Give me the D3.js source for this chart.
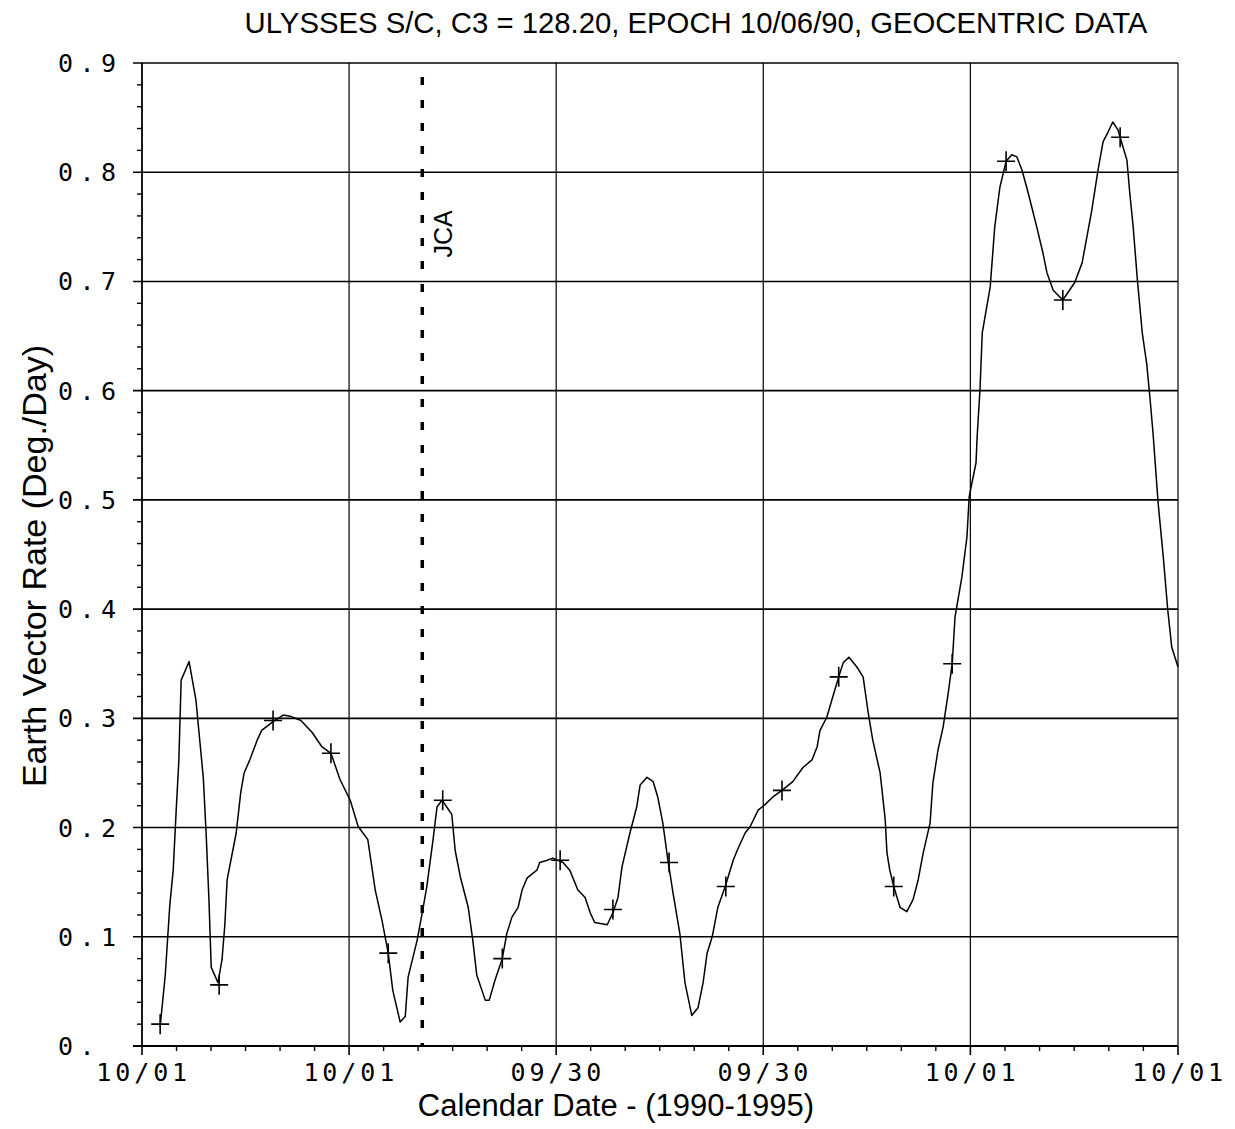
<!DOCTYPE html>
<html>
<head>
<meta charset="utf-8">
<script src="https://cdn.jsdelivr.net/npm/d3@7"></script>
<style>
  body { margin: 0; background: #fff; }
  svg { display: block; }
</style>
</head>
<body>
<svg id="chart" width="1235" height="1129"></svg>
<script>
// ---- Text ----
const chartTitle = "ULYSSES S/C, C3 = 128.20, EPOCH 10/06/90, GEOCENTRIC DATA";
const xTitle = "Calendar Date - (1990-1995)";
const yTitle = "Earth Vector Rate  (Deg./Day)";
const jcaLabel = "JCA";

// ---- Axes (x in days since 10/01/1990) ----
const xTickDays = [0, 365, 730, 1095, 1460, 1826];
const xTickLabels = ["10/01", "10/01", "09/30", "09/30", "10/01", "10/01"];
const yTickValues = [0, 0.1, 0.2, 0.3, 0.4, 0.5, 0.6, 0.7, 0.8, 0.9];
const yTickLabels = ["0.", "0.1", "0.2", "0.3", "0.4", "0.5", "0.6", "0.7", "0.8", "0.9"];

// Jupiter closest approach (days since 10/01/1990)
const jcaDay = 494;

// ---- Earth vector rate, continuous trace ----
const rateDays = [
  32, 41, 49, 55, 60, 65, 69, 83, 95, 108, 113, 118, 122, 134, 141, 146, 150, 166, 174, 180,
  190, 203, 211, 231, 249, 261, 280, 300, 317, 333, 349, 367, 381, 398, 411, 423, 434, 442, 455, 464,
  469, 485, 495, 502, 513, 520, 529, 546, 552, 561, 575, 583, 590, 605, 612, 622, 635, 643, 652, 663,
  670, 679, 696, 701, 714, 724, 742, 754, 768, 781, 790, 798, 820, 830, 839, 846, 860, 872, 878, 890,
  901, 909, 918, 927, 936, 948, 957, 969, 980, 989, 996, 1005, 1015, 1028, 1042, 1049, 1063, 1072, 1086, 1098,
  1112, 1128, 1147, 1165, 1181, 1190, 1195, 1207, 1216, 1228, 1236, 1246, 1260, 1271, 1280, 1288, 1301, 1310, 1313, 1318,
  1325, 1336, 1348, 1359, 1368, 1377, 1389, 1394, 1403, 1412, 1421, 1428, 1433, 1445, 1454, 1458, 1470, 1472, 1477, 1481,
  1495, 1503, 1512, 1523, 1533, 1542, 1551, 1562, 1577, 1588, 1595, 1606, 1623, 1644, 1657, 1674, 1685, 1694, 1703, 1711,
  1720, 1724, 1736, 1741, 1747, 1754, 1763, 1771, 1777, 1782, 1791, 1800, 1808, 1815, 1826
];
const rateValues = [
  0.018, 0.065, 0.129, 0.161, 0.213, 0.262, 0.335, 0.352, 0.317, 0.246, 0.195, 0.134, 0.072, 0.058, 0.079, 0.111, 0.152, 0.195, 0.232, 0.250,
  0.262, 0.280, 0.289, 0.297, 0.303, 0.302, 0.298, 0.287, 0.274, 0.268, 0.244, 0.225, 0.201, 0.189, 0.143, 0.115, 0.085, 0.051, 0.022, 0.027,
  0.063, 0.097, 0.125, 0.146, 0.189, 0.219, 0.225, 0.212, 0.179, 0.155, 0.127, 0.097, 0.065, 0.042, 0.042, 0.060, 0.080, 0.103, 0.118, 0.127,
  0.143, 0.154, 0.161, 0.168, 0.170, 0.172, 0.168, 0.161, 0.143, 0.136, 0.122, 0.113, 0.111, 0.122, 0.136, 0.164, 0.195, 0.219, 0.239, 0.246,
  0.242, 0.228, 0.204, 0.170, 0.140, 0.103, 0.058, 0.028, 0.035, 0.058, 0.085, 0.100, 0.127, 0.146, 0.170, 0.179, 0.195, 0.201, 0.216, 0.221,
  0.228, 0.234, 0.242, 0.255, 0.262, 0.274, 0.289, 0.301, 0.317, 0.338, 0.351, 0.356, 0.347, 0.338, 0.305, 0.280, 0.250, 0.207, 0.177, 0.161,
  0.146, 0.127, 0.123, 0.134, 0.152, 0.177, 0.204, 0.241, 0.271, 0.292, 0.323, 0.350, 0.393, 0.429, 0.466, 0.503, 0.534, 0.558, 0.601, 0.653,
  0.695, 0.750, 0.786, 0.810, 0.816, 0.814, 0.802, 0.781, 0.750, 0.726, 0.708, 0.692, 0.683, 0.699, 0.717, 0.765, 0.802, 0.828, 0.837, 0.846,
  0.839, 0.832, 0.811, 0.781, 0.750, 0.704, 0.653, 0.624, 0.591, 0.561, 0.497, 0.448, 0.399, 0.365, 0.347
];

// ---- Sampled points marked with "+" ----
const sampleDays = [32, 136, 231, 333, 434, 530, 635, 737, 830, 929, 1029, 1128, 1228, 1325, 1428, 1523, 1623, 1724];
const sampleValues = [0.020, 0.056, 0.298, 0.268, 0.085, 0.225, 0.080, 0.170, 0.125, 0.168, 0.146, 0.234, 0.338, 0.146, 0.350, 0.810, 0.683, 0.832];

// ---- Layout ----
const plotLeft = 142, plotRight = 1178, plotTop = 63, plotBottom = 1046;
const svg = d3.select("#chart");

const x = d3.scaleLinear().domain([0, 1826]).range([plotLeft, plotRight]);
const y = d3.scaleLinear().domain([0, 0.9]).range([plotBottom, plotTop]);

const ink = "#000";
const sans = "'Liberation Sans', Arial, Helvetica, sans-serif";
const mono = "'DejaVu Sans Mono', 'Liberation Mono', monospace";

// Horizontal grid lines (0.1 .. 0.9), extended left as major ticks
svg.append("g").selectAll("line")
  .data(yTickValues.filter(v => v > 0))
  .join("line")
  .attr("x1", plotLeft - 9).attr("x2", plotRight)
  .attr("y1", d => y(d)).attr("y2", d => y(d))
  .attr("stroke", ink).attr("stroke-width", 1.6);

// Vertical grid lines at the yearly ticks
svg.append("g").selectAll("line")
  .data(xTickDays.slice(1))
  .join("line")
  .attr("x1", d => x(d)).attr("x2", d => x(d))
  .attr("y1", plotTop).attr("y2", plotBottom)
  .attr("stroke", ink).attr("stroke-width", 1.2);

// Left axis line and bottom axis line
svg.append("line").attr("x1", plotLeft).attr("x2", plotLeft).attr("y1", plotTop).attr("y2", plotBottom)
  .attr("stroke", ink).attr("stroke-width", 1.8);
svg.append("line").attr("x1", plotLeft - 9).attr("x2", plotRight).attr("y1", plotBottom).attr("y2", plotBottom)
  .attr("stroke", ink).attr("stroke-width", 1.8);

// Y minor ticks every 0.02
const yMinor = d3.range(0, 0.9001, 0.02).filter(v => Math.abs(v * 10 - Math.round(v * 10)) > 1e-6);
svg.append("g").selectAll("line").data(yMinor).join("line")
  .attr("x1", plotLeft - 5).attr("x2", plotLeft)
  .attr("y1", d => y(d)).attr("y2", d => y(d))
  .attr("stroke", ink).attr("stroke-width", 1.4);

// X ticks: major at each year, minor every sixth of a year
const xMinor = [];
for (let i = 0; i < xTickDays.length - 1; i++) {
  const a = xTickDays[i], b = xTickDays[i + 1];
  for (let k = 1; k < 6; k++) xMinor.push(a + (b - a) * k / 6);
}
svg.append("g").selectAll("line").data(xMinor).join("line")
  .attr("x1", d => x(d)).attr("x2", d => x(d))
  .attr("y1", plotBottom).attr("y2", plotBottom + 5)
  .attr("stroke", ink).attr("stroke-width", 1.4);
svg.append("g").selectAll("line").data(xTickDays).join("line")
  .attr("x1", d => x(d)).attr("x2", d => x(d))
  .attr("y1", plotBottom).attr("y2", plotBottom + 9)
  .attr("stroke", ink).attr("stroke-width", 1.6);

// Y tick labels
svg.append("g").selectAll("text").data(yTickValues).join("text")
  .attr("x", 58).attr("y", d => y(d) + 9)
  .attr("font-family", mono).attr("font-size", 25)
  .attr("letter-spacing", 6.5)
  .attr("fill", ink)
  .text((d, i) => yTickLabels[i]);

// X tick labels
svg.append("g").selectAll("text").data(xTickDays).join("text")
  .attr("x", d => x(d) + 1.7).attr("y", 1081)
  .attr("text-anchor", "middle")
  .attr("font-family", mono).attr("font-size", 25)
  .attr("letter-spacing", 3.9)
  .attr("fill", ink)
  .text((d, i) => xTickLabels[i]);

// JCA marker line
svg.append("line")
  .attr("x1", x(jcaDay)).attr("x2", x(jcaDay))
  .attr("y1", 77).attr("y2", plotBottom)
  .attr("stroke", ink).attr("stroke-width", 3.5)
  .attr("stroke-dasharray", "8,15");
svg.append("text")
  .attr("transform", `translate(${x(jcaDay) + 30},234) rotate(-90)`)
  .attr("text-anchor", "middle")
  .attr("font-family", sans).attr("font-size", 25)
  .attr("fill", ink)
  .text(jcaLabel);

// Rate curve
const pts = rateDays.map((d, i) => [d, rateValues[i]]);
svg.append("path")
  .datum(pts)
  .attr("fill", "none").attr("stroke", ink).attr("stroke-width", 1.5)
  .attr("stroke-linejoin", "round")
  .attr("d", d3.line().x(d => x(d[0])).y(d => y(d[1])));

// "+" markers at sampled points
svg.append("g").selectAll("path")
  .data(sampleDays.map((d, i) => [d, sampleValues[i]]))
  .join("path")
  .attr("transform", d => `translate(${x(d[0])},${y(d[1])})`)
  .attr("d", "M-9,0H9M0,-10V10")
  .attr("stroke", ink).attr("stroke-width", 1.6).attr("fill", "none");

// Titles
svg.append("text")
  .attr("x", 696).attr("y", 33)
  .attr("text-anchor", "middle")
  .attr("font-family", sans).attr("font-size", 29.3)
  .attr("fill", ink)
  .text(chartTitle);

svg.append("text")
  .attr("x", 616).attr("y", 1116)
  .attr("text-anchor", "middle")
  .attr("font-family", sans).attr("font-size", 31)
  .attr("fill", ink)
  .text(xTitle);

svg.append("text")
  .attr("transform", "translate(46,566) rotate(-90)")
  .attr("text-anchor", "middle")
  .attr("font-family", sans).attr("font-size", 34)
  .attr("fill", ink)
  .text(yTitle);
</script>
</body>
</html>
